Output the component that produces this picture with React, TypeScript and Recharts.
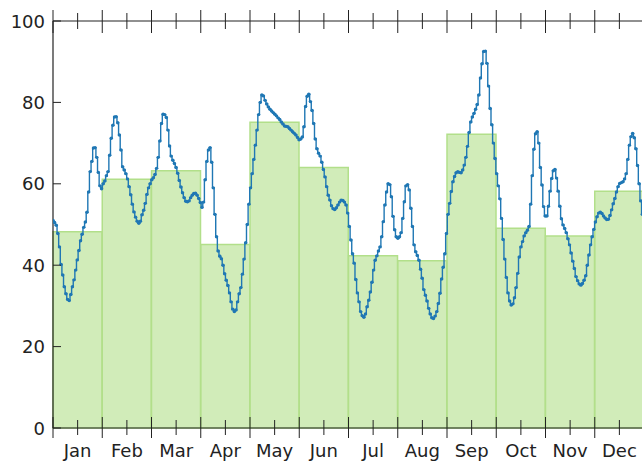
import { ComposedChart, Bar, Line, XAxis, YAxis } from "recharts";

const months = ["Jan", "Feb", "Mar", "Apr", "May", "Jun", "Jul", "Aug", "Sep", "Oct", "Nov", "Dec"];
const monthlyValues = [48.2, 61.1, 63.2, 45.1, 75.1, 64, 42.3, 41.1, 72.2, 49.1, 47.2, 58.2];

// one value per day
const dailyValues = [
  51, 50.5, 49.8, 47.8, 44.5, 40.2, 37.6, 34.7, 33, 31.6,
  31.3, 32.8, 34.7, 36.4, 38.8, 41.3, 43.6, 46, 47.6, 49.3,
  50.6, 53, 58, 63, 65.5, 68.8, 68.9, 66.5, 62.8, 59.5,
  58.8, 60, 60.7, 62, 63, 67, 71.2, 74.4, 76.4, 76.5,
  75, 72, 68.3, 64.2, 63.4, 62.5, 61.2, 59.3, 57.3, 55,
  53.1, 51.8, 50.8, 50.3, 50.8, 52.4, 53.5, 55.2, 57.4, 59,
  60, 61, 61.5, 62.3, 63.8, 66.5, 70.5, 74.8, 77.1, 77,
  76.3, 73.2, 69.3, 66.8, 65.8, 65, 64, 62.6, 60.8, 59.2,
  57.8, 56.6, 55.7, 55.6, 55.8, 56.6, 57.2, 57.6, 57.7, 57.2,
  56.4, 55.4, 54.2, 55.5, 61, 65.5, 68.3, 68.9, 65.3, 59,
  52.5, 47, 43.5, 42.2, 41.6, 40, 37.9, 36.3, 35, 33.2,
  31, 29.2, 28.6, 29, 31, 33, 34.5, 37.8, 41.5, 45.5,
  50, 55, 59, 62.5, 66, 69.5, 73.2, 77, 80, 81.8,
  81.6, 80.5, 79.6, 78.9, 78.3, 77.9, 77.5, 77.1, 76.7, 76.2,
  75.8, 75.2, 74.7, 74.2, 74.1, 74, 73.6, 73.2, 72.8, 72.4,
  72, 71.4, 70.8, 71, 71.5, 74, 79, 81.5, 82, 80.2,
  78, 74.8, 71, 68.6, 67.5, 66.8, 65.3, 63.5, 61.7, 59.3,
  57.2, 56, 54.6, 53.9, 53.7, 54.1, 54.8, 55.5, 56, 55.9,
  55.5, 54.8, 52.8, 49.5, 46.2, 42.8, 40.5, 36.5, 33.2, 31,
  28.6, 27.6, 27.2, 28, 29.8, 31.4, 33.4, 35.8, 38.8, 41.2,
  42.3, 43.5, 44.5, 47, 50.7, 54.8, 58, 60, 59.8, 56.8,
  52, 48.7, 47, 46.6, 47, 48, 51.5, 55.6, 59.5, 59.8,
  58.5, 54, 49.5, 45, 43.3, 42.4, 41.2, 39, 36.8, 34,
  32.6, 31.2, 29.4, 28, 27.1, 26.9, 27.5, 28.6, 30.6, 33.1,
  36.6, 39.5, 42.8, 47.8, 52.5, 55.2, 58.1, 60.5, 61.8, 62.7,
  63, 62.8, 62.7, 63.4, 64.6, 66.5, 69.2, 72.6, 75.2, 76.4,
  77.3, 78.3, 79.5, 81.8, 86, 89.5, 92.5, 92.6, 89.6, 84,
  78.5, 74.5, 70, 66.2, 62.5, 59.5, 56.3, 51.5, 46.3, 41.5,
  37, 33.2, 31.2, 30.2, 30.5, 32, 34.5, 38, 42, 44.5,
  45.8, 47.2, 48, 48.6, 49.5, 55, 62, 68.5, 72.3, 72.8,
  70, 64, 59.7, 54.4, 52.1, 52.1, 54.5, 58.2, 61.3, 63.2,
  63.5, 61.4, 58.2, 54.5, 51.4, 49.9, 49, 48, 46.5, 45,
  43, 41, 39.2, 37.2, 36.2, 35.4, 35.1, 35.5, 36.3, 37.4,
  40, 42.5, 45, 47, 48.8, 50.6, 51.9, 52.8, 53, 52.7,
  52.1, 51.6, 51.2, 51.3, 52.2, 53.6, 55.1, 56.4, 58, 59.3,
  60.1, 60.3, 60.5, 61.2, 62.5, 66, 69.5, 71.6, 72.4, 71.3,
  68.6, 64.5, 60, 55.8, 52.5,
];

const yTicks = [0, 20, 40, 60, 80, 100];

const monthData = months.map((m, i) => ({ month: m, value: monthlyValues[i] }));
const dailyData = dailyValues.map((v, i) => ({ day: i, v }));

const DAYS = 365;
const halfMonth = DAYS / 24;
const xTicks = Array.from({ length: 25 }, (_, j) => j * halfMonth);

const ink = "#222";
const font = "DejaVu Sans, sans-serif";

// plot area height: 453 - 12 (top margin) - 1 (top axis) - 33 (bottom axis)
const PLOT_H = 407;

// draws the in-out tick on the bottom spine, its twin on the top spine, and the month label
function MonthTick(props: any) {
  const { x, y, payload } = props;
  const j = Math.round(payload.value / halfMonth);
  const major = j % 2 === 0;
  const top = y - PLOT_H;
  return (
    <g>
      <line x1={x} x2={x} y1={y - (major ? 11 : 8)} y2={y + (major ? 10 : 7)} stroke={ink} strokeWidth={1} />
      <line x1={x} x2={x} y1={top - (major ? 11 : 8)} y2={top + (major ? 12 : 8)} stroke={ink} strokeWidth={1} />
      {!major && (
        <text x={x} y={y + 29} textAnchor="middle" fontSize={18} fill={ink} fontFamily={font}>
          {months[(j - 1) / 2]}
        </text>
      )}
    </g>
  );
}

function LeftTick(props: any) {
  const { x, y, payload } = props;
  return (
    <g>
      <line x1={x} x2={x + 8} y1={y} y2={y} stroke={ink} strokeWidth={1} />
      <text x={x - 8} y={y + 6.5} textAnchor="end" fontSize={18} fill={ink} fontFamily={font}>
        {payload.value}
      </text>
    </g>
  );
}

export default function App() {
  return (
    <div style={{ position: "absolute", left: 8, top: 8, width: 634, height: 453, overflow: "hidden" }}>
      <ComposedChart
        width={640}
        height={453}
        data={monthData}
        barCategoryGap={0}
        margin={{ top: 12, right: 4, left: 0, bottom: 0 }}
      >
        <XAxis xAxisId="m" dataKey="month" hide />
        <XAxis
          xAxisId="d"
          dataKey="day"
          type="number"
          domain={[0, DAYS]}
          allowDataOverflow
          ticks={xTicks}
          interval={0}
          height={33}
          tickSize={0}
          tickMargin={0}
          tickLine={false}
          axisLine={{ stroke: ink, strokeWidth: 1.2 }}
          tick={MonthTick}
        />
        <XAxis
          xAxisId="t"
          orientation="top"
          type="number"
          domain={[0, DAYS]}
          height={1}
          tick={false}
          tickLine={false}
          axisLine={{ stroke: ink, strokeWidth: 1.2 }}
        />
        <YAxis
          domain={[0, 100]}
          ticks={yTicks}
          interval={0}
          width={45}
          tickSize={0}
          tickMargin={0}
          tickLine={false}
          axisLine={{ stroke: ink, strokeWidth: 1.2 }}
          tick={LeftTick}
        />
        <Bar
          xAxisId="m"
          dataKey="value"
          fill="#b2df8a"
          fillOpacity={0.6}
          stroke="#b2df8a"
          strokeWidth={1.5}
          isAnimationActive={false}
        />
        <Line
          xAxisId="d"
          data={dailyData}
          dataKey="v"
          type="step"
          stroke="#1f77b4"
          strokeWidth={1.4}
          dot={{ r: 1.7, fill: "#1f77b4", stroke: "none" }}
          isAnimationActive={false}
        />
      </ComposedChart>
    </div>
  );
}
